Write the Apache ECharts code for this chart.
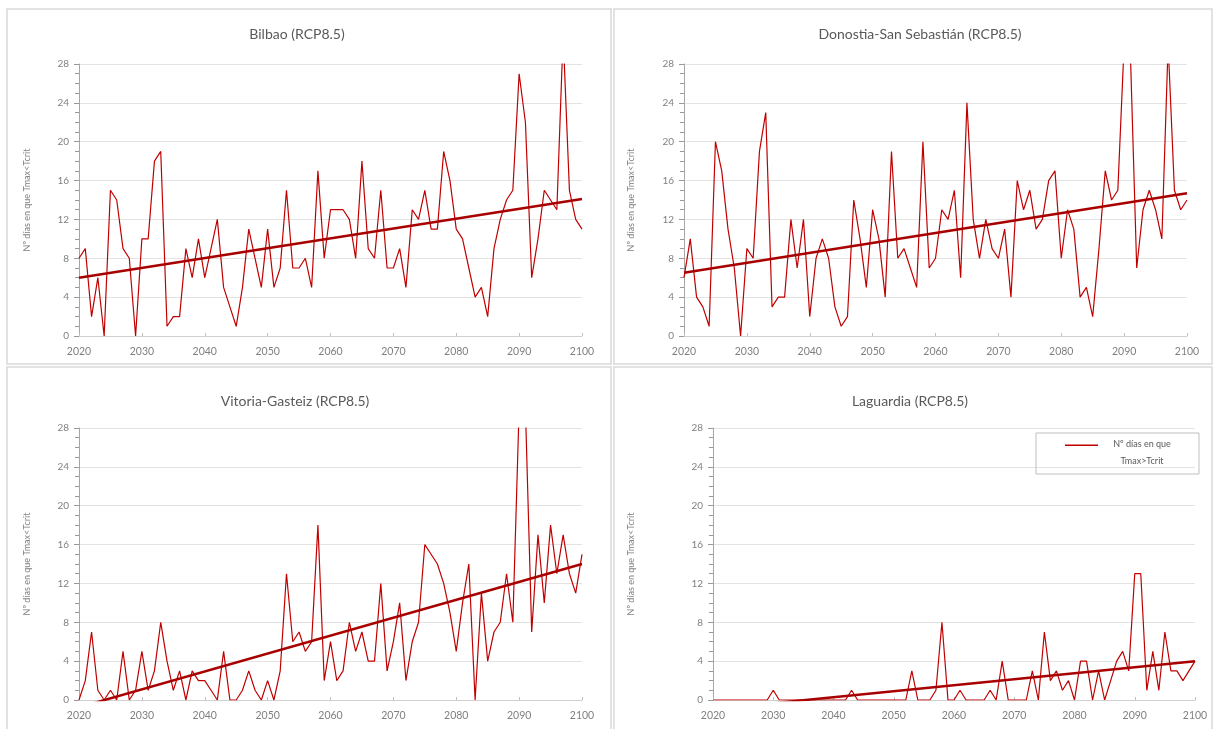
<!DOCTYPE html>
<html>
<head>
<meta charset="utf-8">
<script src="https://cdn.jsdelivr.net/npm/echarts@6/dist/echarts.min.js"></script>
<style>
html, body { margin: 0; padding: 0; background: #fff; }
#main { width: 1215px; height: 729px; }
</style>
</head>
<body>
<div id="main"></div>
<script>
var myChart = echarts.init(document.getElementById('main'));

var titles = ['Bilbao (RCP8.5)', 'Donostia-San Sebastián (RCP8.5)', 'Vitoria-Gasteiz (RCP8.5)', 'Laguardia (RCP8.5)'];
var yName = 'Nº días en que Tmax<Tcrit';
var legendName = 'Nº días en que Tmax>Tcrit';

var firstYear = 2020;
var lastYear = 2100;
var yTicks = [0, 4, 8, 12, 16, 20, 24, 28];

// dias por año, 2020..2100
var bilbao = [
    8, 9, 2, 6, 0, 15, 14, 9, 8, 0,
    10, 10, 18, 19, 1, 2, 2, 9, 6, 10,
    6, 9, 12, 5, 3, 1, 5, 11, 8, 5,
    11, 5, 7, 15, 7, 7, 8, 5, 17, 8,
    13, 13, 13, 12, 8, 18, 9, 8, 15, 7,
    7, 9, 5, 13, 12, 15, 11, 11, 19, 16,
    11, 10, 7, 4, 5, 2, 9, 12, 14, 15,
    27, 22, 6, 10, 15, 14, 13, 31, 15, 12, 11
];
var donostia = [
    6, 10, 4, 3, 1, 20, 17, 11, 7, 0,
    9, 8, 19, 23, 3, 4, 4, 12, 7, 12,
    2, 8, 10, 8, 3, 1, 2, 14, 10, 5,
    13, 10, 4, 19, 8, 9, 7, 5, 20, 7,
    8, 13, 12, 15, 6, 24, 12, 8, 12, 9,
    8, 11, 4, 16, 13, 15, 11, 12, 16, 17,
    8, 13, 11, 4, 5, 2, 9, 17, 14, 15,
    30, 29, 7, 13, 15, 13, 10, 30, 15, 13, 14
];
var vitoria = [
    0, 2, 7, 1, 0, 1, 0, 5, 0, 1,
    5, 1, 3, 8, 4, 1, 3, 0, 3, 2,
    2, 1, 0, 5, 0, 0, 1, 3, 1, 0,
    2, 0, 3, 13, 6, 7, 5, 6, 18, 2,
    6, 2, 3, 8, 5, 7, 4, 4, 12, 3,
    6, 10, 2, 6, 8, 16, 15, 14, 12, 9,
    5, 10, 14, 0, 11, 4, 7, 8, 13, 8,
    30, 30, 7, 17, 10, 18, 13, 17, 13, 11, 15
];
var laguardia = [
    0, 0, 0, 0, 0, 0, 0, 0, 0, 0,
    1, 0, 0, 0, 0, 0, 0, 0, 0, 0,
    0, 0, 0, 1, 0, 0, 0, 0, 0, 0,
    0, 0, 0, 3, 0, 0, 0, 1, 8, 0,
    0, 1, 0, 0, 0, 0, 1, 0, 4, 0,
    0, 0, 0, 3, 0, 7, 2, 3, 1, 2,
    0, 4, 4, 0, 3, 0, 2, 4, 5, 3,
    13, 13, 1, 5, 1, 7, 3, 3, 2, 3, 4
];

// lineas de tendencia: valor en 2020 y en 2100
var trendBilbao = [6.0, 14.1];
var trendDonostia = [6.5, 14.7];
var trendVitoria = [-0.75, 14.0];
var trendLaguardia = [-0.95, 4.0];

var allSeries = [bilbao, donostia, vitoria, laguardia];
var allTrends = [trendBilbao, trendDonostia, trendVitoria, trendLaguardia];

var grids = [
    { left: 79, top: 64, width: 503, height: 272 },
    { left: 684, top: 64, width: 503, height: 272 },
    { left: 79, top: 428, width: 503, height: 272 },
    { left: 713, top: 428, width: 482, height: 272 }
];
var nameGaps = [47, 48, 47, 77];
var titlePos = [[292, 22], [915, 22], [290, 389], [905, 389]];

function toPoints(values) {
    return values.map(function (v, i) { return [firstYear + i, v]; });
}

var labelColor = '#808080';
var fontFamily = 'Lato, "Open Sans", sans-serif';

var option = {
    animation: false,
    backgroundColor: '#fff',
    textStyle: { fontFamily: fontFamily },
    title: titles.map(function (t, i) {
        return {
            text: t,
            left: titlePos[i][0],
            top: titlePos[i][1],
            textAlign: 'center',
            textStyle: { fontSize: 14, fontWeight: 'normal', color: '#595959', fontFamily: fontFamily }
        };
    }),
    grid: grids,
    xAxis: grids.map(function (g, i) {
        return {
            type: 'value',
            gridIndex: i,
            min: firstYear,
            max: lastYear,
            interval: 10,
            axisLine: { lineStyle: { color: '#d0d0d0' } },
            axisTick: { inside: true, length: 3, lineStyle: { color: '#c0c0c0' } },
            axisLabel: {
                color: labelColor,
                fontSize: 10.5,
                margin: 10,
                formatter: function (v) { return String(v); }
            },
            splitLine: { show: false }
        };
    }),
    yAxis: grids.map(function (g, i) {
        return {
            type: 'value',
            gridIndex: i,
            min: yTicks[0],
            max: yTicks[yTicks.length - 1],
            interval: 4,
            name: yName,
            nameLocation: 'middle',
            nameGap: nameGaps[i],
            nameTextStyle: { color: labelColor, fontSize: 9 },
            axisLine: { show: true, lineStyle: { color: '#a6a6a6' } },
            axisTick: { show: true, length: 5, lineStyle: { color: '#999999' } },
            minorTick: { show: true, splitNumber: 4, length: 4, lineStyle: { color: '#999999' } },
            axisLabel: { color: labelColor, fontSize: 10, margin: 10 },
            splitLine: { lineStyle: { color: '#e3e3e3' } }
        };
    }),
    legend: {
        data: [legendName],
        left: 1036,
        top: 433,
        orient: 'vertical',
        icon: 'path://M0,0H33V1.4H0Z M0,17H0.01V17.01H0Z',
        itemWidth: 33,
        itemHeight: 17,
        itemGap: 0,
        borderColor: '#bfbfbf',
        borderWidth: 1,
        padding: [7, 18, 8, 29],
        formatter: function () {
            return '{a|Nº días en que}\n{a|Tmax>Tcrit}';
        },
        textStyle: {
            color: '#595959',
            fontSize: 9,
            rich: { a: { width: 78, align: 'center', lineHeight: 17, fontSize: 9, color: '#595959' } }
        }
    },
    graphic: [
        { type: 'rect', shape: { x: 7, y: 9, width: 604, height: 355 }, style: { fill: 'none', stroke: '#d9d9d9', lineWidth: 1.5 }, silent: true },
        { type: 'rect', shape: { x: 614, y: 9, width: 598, height: 355 }, style: { fill: 'none', stroke: '#d9d9d9', lineWidth: 1.5 }, silent: true },
        { type: 'rect', shape: { x: 7, y: 367, width: 604, height: 365 }, style: { fill: 'none', stroke: '#d9d9d9', lineWidth: 1.5 }, silent: true },
        { type: 'rect', shape: { x: 614, y: 367, width: 598, height: 365 }, style: { fill: 'none', stroke: '#d9d9d9', lineWidth: 1.5 }, silent: true }
    ],
    series: []
};

allSeries.forEach(function (values, i) {
    option.series.push({
        name: i === 3 ? legendName : titles[i],
        type: 'line',
        xAxisIndex: i,
        yAxisIndex: i,
        data: toPoints(values),
        showSymbol: false,
        symbol: 'none',
        clip: true,
        lineStyle: { color: '#c00000', width: 1.2 },
        itemStyle: { color: '#c00000' }
    });
    option.series.push({
        name: 'tendencia ' + i,
        type: 'line',
        xAxisIndex: i,
        yAxisIndex: i,
        data: [[firstYear, allTrends[i][0]], [lastYear, allTrends[i][1]]],
        showSymbol: false,
        symbol: 'none',
        clip: true,
        z: 3,
        lineStyle: { color: '#a80000', width: 2.5 }
    });
});

myChart.setOption(option);
</script>
</body>
</html>
